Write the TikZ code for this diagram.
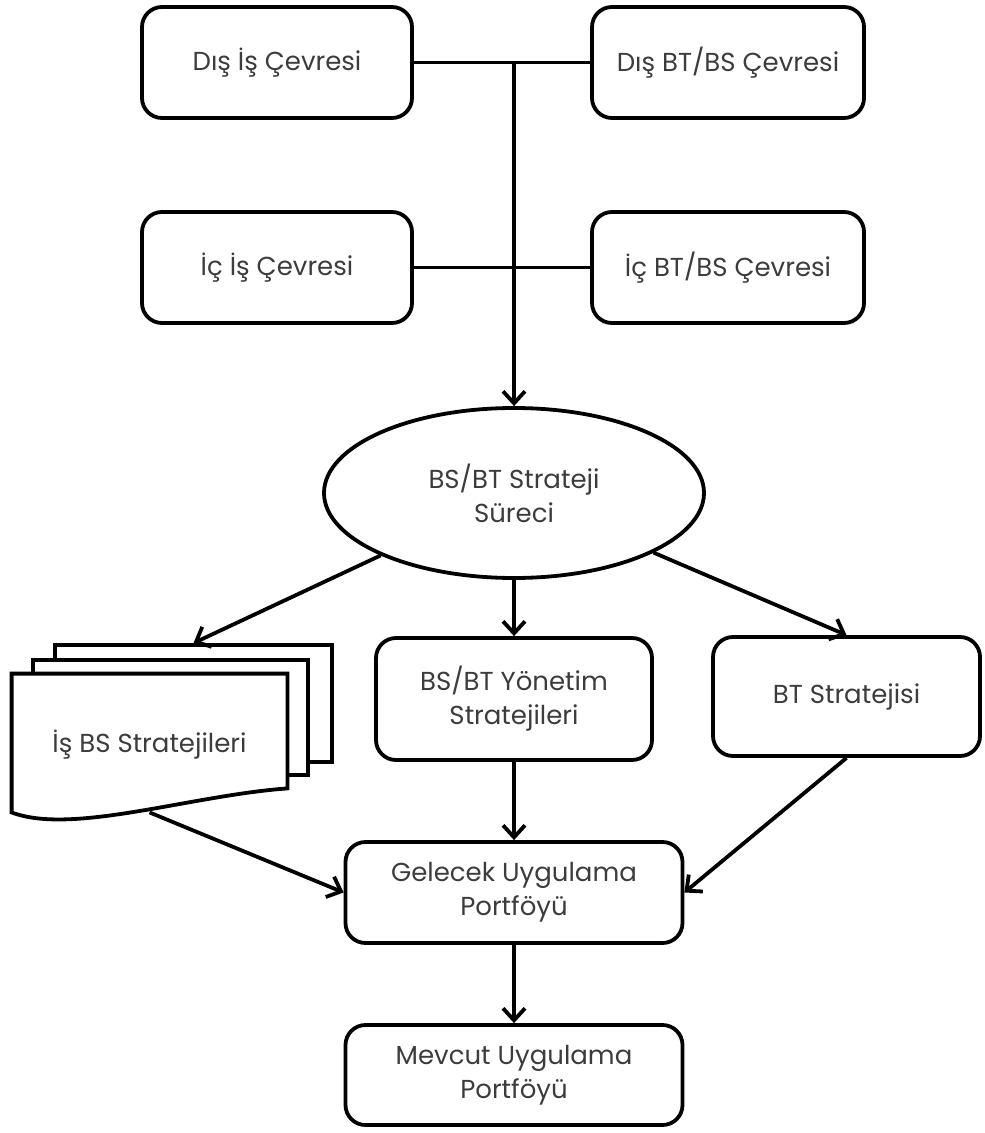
\documentclass[tikz,border=0pt]{standalone}
\usepackage{fontspec}
\setmainfont{Poppins}
\usepackage{tikz}
\usetikzlibrary{
    arrows.meta,
    calc,
    positioning,
    shapes,
    shapes.geometric,
}
\definecolor{txtgray}{HTML}{3C3C3C}
\tikzstyle{box}=[draw,rectangle,rounded corners=10pt,line width=1.9pt,text=txtgray,align=center,font=\fontsize{13}{17}\selectfont,inner sep=0pt]
\tikzstyle{sheet}=[draw,rectangle,line width=1.9pt,fill=white,inner sep=0pt]
\tikzstyle{line}=[line width=1.9pt]
\tikzstyle{arr}=[line width=1.9pt,-{Straight Barb[length=6pt,width=11pt]}]

\begin{document}
\begin{tikzpicture}[x=0.5pt,y=-0.5pt]
                \useasboundingbox (0,0) rectangle (984,1133);
                % inputs
                \node[box,minimum width=135pt,minimum height=55.5pt] (disis) at (277,62.5) {Dış İş Çevresi};
                \node[box,minimum width=136pt,minimum height=55.5pt] (disbt) at (728,62.5) {Dış BT/BS Çevresi};
                \node[box,minimum width=135pt,minimum height=55.5pt] (icis) at (277,267.5) {İç İş Çevresi};
                \node[box,minimum width=136pt,minimum height=55.5pt] (icbt) at (728,267.5) {İç BT/BS Çevresi};
                % process
                \node[box,ellipse,rounded corners=0pt,minimum width=190pt,minimum height=85pt] (surec) at (514,493) {BS/BT Strateji\\Süreci};
                % outputs
                \node[sheet,minimum width=138.5pt,minimum height=58.5pt] (doc3) at (193.5,703.5) {};
                \node[sheet,minimum width=137.5pt,minimum height=57.5pt] (doc2) at (170.5,717.5) {};
                \node[rectangle,inner sep=0pt,minimum width=137.5pt,minimum height=69pt] (doc1) at (149.5,743) {};
                \filldraw[line,fill=white] (doc1.north west) -- (doc1.north east) -- ([yshift=12pt]doc1.south east)
                    .. controls +(-97,7) and +(60,23) .. (doc1.south west) -- cycle;
                \node[text=txtgray,font=\fontsize{13}{17}\selectfont] (doc1label) at (149.5,745) {İş BS Stratejileri};
                \node[box,minimum width=138pt,minimum height=61pt] (yonetim) at (514,699) {BS/BT Yönetim\\Stratejileri};
                \node[box,minimum width=133.5pt,minimum height=59.5pt] (btstrat) at (846.5,696.5) {BT Stratejisi};
                % portfolios
                \node[box,minimum width=168.5pt,minimum height=50.5pt] (gelecek) at (514,892.5) {Gelecek Uygulama\\Portföyü};
                \node[box,minimum width=168.5pt,minimum height=50pt] (mevcut) at (514,1075) {Mevcut Uygulama\\Portföyü};
                % connectors
                \draw[line] (disis.east) -- (disbt.west);
                \draw[line] (icis.east) -- (icbt.west);
                \draw[arr] (surec.north |- disis.east) -- (surec.north);
                \draw[arr] (surec) -- (doc3.north);
                \draw[arr] (surec) -- (yonetim);
                \draw[arr] (surec) -- (btstrat.north);
                \draw[arr] (doc1.south) -- (gelecek.west);
                \draw[arr] (yonetim) -- (gelecek);
                \draw[arr] (btstrat.south) -- (gelecek.east);
                \draw[arr] (gelecek) -- (mevcut);
            \end{tikzpicture}
\end{document}
